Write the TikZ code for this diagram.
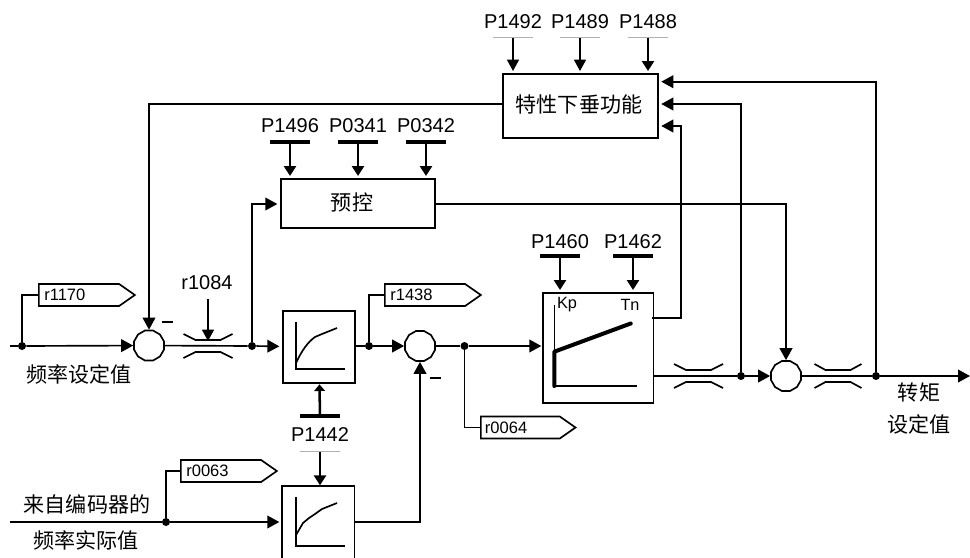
\documentclass[tikz,border=0pt]{standalone}
\usepackage{fontspec}
\setmainfont{Liberation Sans}
\newfontfamily\cjk{Noto Sans CJK SC}
\usetikzlibrary{arrows.meta,shapes.geometric,shapes.symbols,calc}
\tikzset{
  ln/.style={line width=1.25pt,draw=black},
  thin arr/.style={line width=1.05pt,-{Triangle[length=8.5pt,width=9pt]},shorten >=1.5pt},
  arr/.style={line width=1.25pt,-{Triangle[length=9pt,width=9.5pt]},shorten >=2pt},
  arrj/.style={line width=1.25pt,-{Triangle[length=9pt,width=9.5pt]},shorten >=0pt},
  fat arr/.style={line width=1.9pt,-{Triangle[length=7.5pt,width=9pt]},shorten >=1.5pt},
  dot/.style={circle,fill=black,inner sep=0pt,minimum size=6pt},
  blockbox/.style={draw=black,line width=1.25pt,rectangle,inner sep=0pt,anchor=north west},
  sumj/.style={draw=black,line width=1.25pt,regular polygon,regular polygon sides=12,minimum size=23.3pt,inner sep=0pt},
  tag/.style={draw=black,line width=1.25pt,signal,signal to=east,signal pointer angle=70,inner sep=0pt,minimum height=16.5pt,anchor=west,font=\fontsize{12.4}{14}\selectfont},
  plabel/.style={font=\fontsize{15}{17}\selectfont,inner sep=0pt},
  cjklabel/.style={font=\cjk\fontsize{15.8}{18}\selectfont,inner sep=0pt},
  boldbar/.style={rectangle,fill=black,inner sep=0pt,minimum width=30.5pt,minimum height=2.4pt},
  greybar/.style={rectangle,fill=black!30,inner sep=0pt,minimum width=30.5pt,minimum height=0.6pt},
}
\newcommand{\throttle}[4]{% x, y, half-width, half-flat
  \draw[ln] (#1-#3,#2-12) -- (#1-#4,#2-6) -- (#1+#4,#2-6) -- (#1+#3,#2-12);
  \draw[ln] (#1-#3,#2+12) -- (#1-#4,#2+6) -- (#1+#4,#2+6) -- (#1+#3,#2+12);
}
\begin{document}
\begin{tikzpicture}[x=0.75pt,y=-0.75pt]
\useasboundingbox (0,0) rectangle (970,557);
% blocks
\node[blockbox,minimum width=116.2pt,minimum height=48pt] (droop) at (502,73) {};
\node[cjklabel] at (579,104) {特性下垂功能};
\node[blockbox,minimum width=115.5pt,minimum height=37pt] (pre) at (280,178) {};
\node[cjklabel] at (352,202) {预控};
\node[blockbox,minimum width=54pt,minimum height=54pt] (f1) at (282,310) {};
\node[rectangle,inner sep=0pt,anchor=north west,minimum width=54pt,minimum height=53.25pt] (f2) at (282,486) {};
\draw[ln] (f2.south west) |- (f2.north east) -- (f2.south east);
\node[blockbox,minimum width=83pt,minimum height=82.5pt] (pi) at (542,292) {};
% inner graphs
\draw[ln] (296,322) -- (296,369.3) -- (345,369.3);
\draw[ln] (296,363) .. controls (302,350) and (308,342) .. (315,337) -- (322,334) -- (337,328);
\draw[ln] (296,497) -- (296,545.7) -- (345,545.7);
\draw[ln] (296,535) -- (303,523) -- (309,518) -- (315,514) -- (322,509) -- (337,503);
\draw[line width=1pt] (554.3,305) -- (554.3,386);
\draw[ln] (554.3,386) -- (637,386);
\draw[line width=3pt,line cap=round,line join=round] (554.3,386) -- (554.3,351.7) -- (630.7,323.5);
\node[font=\fontsize{12.2}{14}\selectfont,inner sep=0pt] at (567,305) {Kp};
\node[font=\fontsize{12.2}{14}\selectfont,inner sep=0pt] at (630,305) {Tn};
% junctions
\node[sumj] (j1) at (149,345.5) {};
\node[sumj] (j3) at (420,346) {};
\node[sumj] (j4) at (786,376) {};
% dots
\node[dot] (d0) at (22,346) {};
\node[dot] (d1) at (252,346) {};
\node[dot] (d2) at (369,346) {};
\node[dot] (d3) at (464.5,346) {};
\node[dot] (d4) at (166,522) {};
\node[dot] (d5) at (741,376) {};
\node[dot] (d6) at (876,376) {};
% free ends
\coordinate (in1) at (10,346);
\coordinate (in2) at (10,522);
\coordinate (out) at (970,376);
\coordinate (prein) at (280,204);
\coordinate (preout) at (434,204);
\coordinate (piout) at (652.4,317.7);
\coordinate (piup) at (681,317.7);
% tags
\node[tag,minimum width=72pt,text width=58pt] (t1170) at (38,295) {\hspace*{3pt}r1170};
\node[tag,minimum width=72pt,text width=58pt] (t1438) at (384,295) {\hspace*{3pt}r1438};
\node[tag,minimum width=71pt,text width=57pt] (t0064) at (480,427.5) {\hspace*{2pt}r0064};
\node[tag,minimum width=72pt,text width=58pt] (t0063) at (180,471) {\hspace*{3pt}r0063};
% main flows
\draw[ln] (in1) -- (d0);
\draw[arrj] (d0) -- (j1);
\draw[ln] (j1) -- (d1);
\draw[arr] (d1) -- (f1);
\draw[ln] (f1.east |- d2) -- (d2);
\draw[arrj] (d2) -- (j3);
\draw[ln] (j3) -- (d3);
\draw[arr,shorten >=0.5pt] (d3) -- (d3 -| pi.west);
\draw[ln] (pi.east |- d5) -- (d5);
\draw[arrj] (d5) -- (j4);
\draw[ln] (j4) -- (d6);
\draw[arrj] (d6) -- (out);
\draw[ln] (in2) -- (d4);
\draw[arr] (d4) -- (d4 -| f2.west);
\draw[arrj] (f2.east |- d4) -| (j3);
% tag branches
\draw[ln] (d0) |- (t1170.west);
\draw[ln] (d2) |- (t1438.west);
\draw[ln] (d3) |- (t0064.west);
\draw[ln] (d4) |- (t0063.west);
% feedbacks
\draw[arrj] (droop.west |- 149,104) -| (j1);
\draw[arr] (d1) |- (prein);
\draw[arrj] (preout) -| (j4);
\draw[arr] (piout) -- (piup) |- (droop.east |- 0,126);
\draw[arr] (d5) |- (droop.east |- 0,104);
\draw[arr] (d6) |- (droop.east |- 0,81.7);
% throttles
\throttle{208}{346}{24.5}{12.5}
\throttle{698.5}{376}{24.5}{12.5}
\throttle{838}{376}{23.5}{12.5}
% r1084
\node[plabel] (r1084) at (207,283) {r1084};
\coordinate (thr1) at (208,341);
\draw[thin arr,shorten >=0pt] (208,299) -- (thr1);
% minus signs
\draw[line width=0.9pt] (162,322) -- (173,322);
\draw[line width=0.9pt] (430,378) -- (441,378);
% droop params
\node[plabel] (p1492) at (513,21.7) {P1492};
\node[plabel] (p1489) at (580,21.7) {P1489};
\node[plabel] (p1488) at (648,21.7) {P1488};
\node[greybar] (b1492) at (513,37) {};
\node[greybar] (b1489) at (580,37) {};
\node[greybar] (b1488) at (648,37) {};
\draw[thin arr] (b1492) -- (b1492 |- droop.north);
\draw[thin arr] (b1489) -- (b1489 |- droop.north);
\draw[fat arr] (b1488) -- (b1488 |- droop.north);
% pre params
\node[plabel] (p1496) at (290,126) {P1496};
\node[plabel] (p0341) at (358,126) {P0341};
\node[plabel] (p0342) at (426,126) {P0342};
\node[boldbar] (b1496) at (290,142) {};
\node[boldbar] (b0341) at (358,142) {};
\node[boldbar] (b0342) at (426,142) {};
\draw[fat arr] (b1496) -- (b1496 |- pre.north);
\draw[fat arr] (b0341) -- (b0341 |- pre.north);
\draw[fat arr] (b0342) -- (b0342 |- pre.north);
% PI params
\node[plabel] (p1460) at (560,241.7) {P1460};
\node[plabel] (p1462) at (633,241.7) {P1462};
\node[boldbar,minimum width=30pt] (b1460) at (560,256) {};
\node[boldbar,minimum width=30pt] (b1462) at (633,256) {};
\draw[fat arr] (b1460) -- (b1460 |- pi.north);
\draw[fat arr] (b1462) -- (b1462 |- pi.north);
% P1442
\node[plabel] (p1442) at (320,435) {P1442};
\node[boldbar] (b1442a) at (320,416) {};
\node[greybar] (b1442b) at (320,451) {};
\draw[fat arr,-{Triangle[length=5pt,width=8pt]},shorten >=0.5pt] (b1442a) -- (f1);
\draw[fat arr,shorten >=0.5pt] (b1442b) -- (b1442b |- f2.north);
% texts
\node[cjklabel] at (79,374) {频率设定值};
\node[cjklabel] at (87,504) {来自编码器的};
\node[cjklabel] at (86,540) {频率实际值};
\node[cjklabel] at (919,392) {转矩};
\node[cjklabel] at (919,424) {设定值};
\end{tikzpicture}
\end{document}
